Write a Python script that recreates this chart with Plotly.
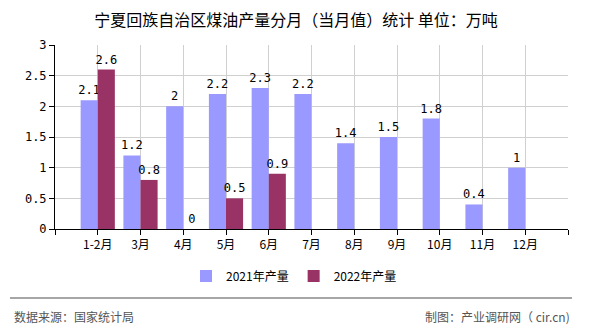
import plotly.graph_objects as go

categories = ["1-2月", "3月", "4月", "5月", "6月", "7月", "8月", "9月", "10月", "11月", "12月"]
values_2021 = [2.1, 1.2, 2, 2.2, 2.3, 2.2, 1.4, 1.5, 1.8, 0.4, 1]
values_2022 = [2.6, 0.8, 0, 0.5, 0.9, None, None, None, None, None, None]
y_ticks = [0, 0.5, 1, 1.5, 2, 2.5, 3]
y_tick_labels = ["0", "0.5", "1", "1.5", "2", "2.5", "3"]

xpos = list(range(len(categories)))
font_cn = "Noto Sans CJK SC, sans-serif"
font_num = "DejaVu Sans Mono, monospace"

def fmt(v):
    if v is None:
        return ""
    return ("%g" % v)

fig = go.Figure()
fig.add_trace(go.Bar(
    x=xpos, y=values_2021, name="2021年产量",
    marker=dict(color="#9999FF", line=dict(width=0)),
    text=[fmt(v) for v in values_2021], textposition="outside",
    textfont=dict(family=font_num, size=12, color="#000000"),
    constraintext="none", cliponaxis=False,
))
fig.add_trace(go.Bar(
    x=xpos, y=values_2022, name="2022年产量",
    marker=dict(color="#993366", line=dict(width=0)),
    text=[fmt(v) for v in values_2022], textposition="outside",
    textfont=dict(family=font_num, size=12, color="#000000"),
    constraintext="none", cliponaxis=False,
))

tickvals = [-1] + xpos + [len(categories)]
ticktext = [""] + categories + [""]

fig.update_layout(
    width=590, height=330,
    paper_bgcolor="white", plot_bgcolor="white",
    margin=dict(l=55, r=22, t=45, b=101),
    barmode="group", bargap=0.2, bargroupgap=0,
    title=dict(text="宁夏回族自治区煤油产量分月（当月值）统计 单位：万吨",
               x=(296) / 590, xanchor="center", y=1 - 20 / 330, yanchor="middle",
               font=dict(family=font_cn, size=16, color="#000000")),
    showlegend=True,
    legend=dict(orientation="h", x=(186 - 55) / 513, xanchor="left", y=-0.255, yanchor="middle",
                font=dict(family=font_cn, size=12, color="#000000"),
                itemwidth=30, traceorder="normal"),
    xaxis=dict(range=[-1, len(categories)], tickmode="array", tickvals=tickvals, ticktext=ticktext,
               showgrid=True, gridcolor="#d0d0d0", gridwidth=1,
               showline=True, linecolor="#000000", linewidth=1,
               ticks="outside", ticklen=5, tickcolor="#000000",
               tickfont=dict(family=font_cn, size=12, color="#000000"),
               zeroline=False, fixedrange=True),
    yaxis=dict(range=[0, 3], tickmode="array", tickvals=y_ticks, ticktext=y_tick_labels,
               showgrid=True, gridcolor="#d0d0d0", gridwidth=1,
               showline=True, linecolor="#000000", linewidth=1,
               ticks="outside", ticklen=5, tickcolor="#000000",
               tickfont=dict(family=font_num, size=12, color="#000000"),
               zeroline=False, fixedrange=True),
    shapes=[
        dict(type="line", xref="paper", yref="paper",
             x0=(10 - 55) / 513, x1=(572 - 55) / 513, y0=(229 - 298) / 184, y1=(229 - 298) / 184,
             line=dict(color="#888888", width=1.5)),
    ],
    annotations=[
        dict(text="数据来源：国家统计局", xref="paper", yref="paper",
             x=(12 - 55) / 513, y=(229 - 316) / 184, xanchor="left", yanchor="middle",
             showarrow=False, font=dict(family=font_cn, size=12, color="#555555")),
        dict(text="制图：产业调研网（ cir.cn)", xref="paper", yref="paper",
             x=(572 - 55) / 513, y=(229 - 316) / 184, xanchor="right", yanchor="middle",
             showarrow=False, font=dict(family=font_cn, size=12, color="#555555")),
    ],
)

fig.write_html("out.html")
